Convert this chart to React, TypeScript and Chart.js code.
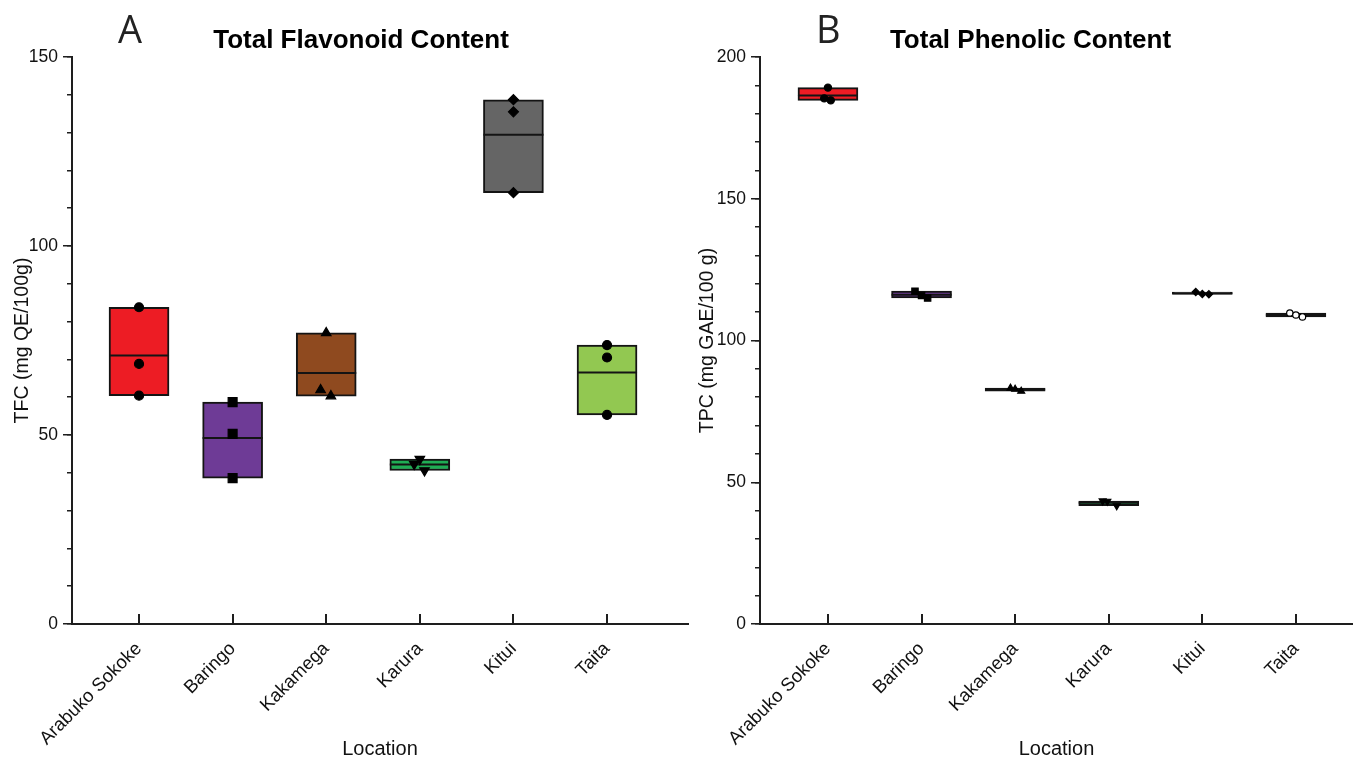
import React, { useEffect, useRef } from 'react';
import { Chart, registerables } from 'chart.js';

Chart.register(...registerables);

// ---------- data ----------
const categories = ['Arabuko Sokoke', 'Baringo', 'Kakamega', 'Karura', 'Kitui', 'Taita'];

// Total Flavonoid Content (mg QE/100g), three replicates per location
const tfcArabukoSokoke = [83.8, 68.8, 60.4];
const tfcBaringo = [58.7, 50.3, 38.6];
const tfcKakamega = [77.0, 61.9, 60.3];
const tfcKarura = [43.6, 42.3, 40.6];
const tfcKitui = [138.7, 135.5, 114.1];
const tfcTaita = [73.8, 70.5, 55.3];

// Total Phenolic Content (mg GAE/100 g), three replicates per location
const tpcArabukoSokoke = [189.2, 185.4, 184.7];
const tpcBaringo = [117.4, 115.9, 115.0];
const tpcKakamega = [83.2, 82.8, 82.1];
const tpcKarura = [43.4, 43.3, 41.7];
const tpcKitui = [117.1, 116.4, 116.3];
const tpcTaita = [109.7, 109.0, 108.3];

const tfcTicks = [0, 50, 100, 150];
const tpcTicks = [0, 50, 100, 150, 200];

// ---------- styles ----------
const boxColors = ['#ED1C24', '#6E3B96', '#8F4A1F', '#1FAE54', '#656565', '#92C851'];
const markerStyles = ['circle', 'rect', 'triangle', 'triangle', 'rectRot', 'circle'];
const markerRotations = [0, 0, 0, 180, 0, 0];
const tfcJitter = [
  [0, 0, 0],
  [0, 0, 0],
  [0, -0.06, 0.05],
  [0, -0.06, 0.05],
  [0, 0, 0],
  [0, 0, 0],
];
const tpcJitter = [
  [0, -0.04, 0.03],
  [-0.07, 0, 0.065],
  [-0.05, 0, 0.065],
  [-0.065, -0.015, 0.085],
  [-0.07, 0, 0.07],
  [-0.065, 0, 0.07],
];
const FONT = '"Liberation Sans", Arial, sans-serif';
const AXIS = '#1e1e1e';

type Panel = {
  reps: number[][];
  jitter: number[][];
  yMax: number;
  yLabelTicks: number[];
  title: string;
  yTitle: string;
  xMin: number;
  xMax: number;
  markerRadii: number[];
  openLast: boolean;
  padLeft: number;
  padRight: number;
  yAxisWidth: number;
};

function buildConfig(p: Panel): any {
  const barData = p.reps.map((r, i) => ({ x: i, y: [Math.min(...r), Math.max(...r)] }));
  const meanData = p.reps.map((r, i) => ({ x: i, y: r.reduce((a, b) => a + b, 0) / r.length }));
  const pts: { x: number; y: number }[] = [];
  const styles: string[] = [];
  const rots: number[] = [];
  const radii: number[] = [];
  const fills: string[] = [];
  p.reps.forEach((r, i) => {
    r.forEach((v, j) => {
      pts.push({ x: i + p.jitter[i][j], y: v });
      styles.push(markerStyles[i]);
      rots.push(markerRotations[i]);
      radii.push(p.markerRadii[i]);
      fills.push(p.openLast && i === 5 ? '#ffffff' : '#000000');
    });
  });
  const minorTicks: number[] = [];
  for (let v = 0; v <= p.yMax; v += 10) minorTicks.push(v);

  return {
    type: 'bar',
    data: {
      datasets: [
        {
          type: 'bar',
          data: barData,
          xAxisID: 'x',
          yAxisID: 'y',
          backgroundColor: boxColors,
          borderColor: '#141414',
          borderWidth: 2,
          borderSkipped: false,
          barThickness: 60,
          order: 3,
        },
        {
          type: 'scatter',
          data: meanData,
          xAxisID: 'x',
          yAxisID: 'y',
          pointStyle: 'line',
          pointRadius: 30,
          pointBorderWidth: 2,
          borderColor: '#141414',
          pointBorderColor: '#141414',
          order: 2,
        },
        {
          type: 'scatter',
          data: pts,
          xAxisID: 'x',
          yAxisID: 'y',
          pointStyle: styles,
          rotation: rots,
          pointRadius: radii,
          pointBackgroundColor: fills,
          backgroundColor: fills,
          pointBorderColor: '#000000',
          borderColor: '#000000',
          pointBorderWidth: 1.2,
          order: 1,
        },
      ],
    },
    options: {
      animation: false,
      responsive: false,
      maintainAspectRatio: false,
      events: [],
      layout: { padding: { left: p.padLeft, right: p.padRight, top: 0, bottom: 0 } },
      plugins: {
        legend: { display: false },
        tooltip: { enabled: false },
        title: {
          display: true,
          text: p.title,
          color: '#000',
          font: { family: FONT, size: 26, weight: 'bold', lineHeight: 1.2 },
          padding: { top: 25, bottom: 0.8 },
        },
      },
      scales: {
        x: {
          type: 'linear',
          axis: 'x',
          position: 'bottom',
          min: p.xMin,
          max: p.xMax,
          offset: false,
          afterBuildTicks: (ax: any) => {
            ax.ticks = categories.map((_, i) => ({ value: i }));
          },
          afterFit: (s: any) => {
            s.height = 135;
          },
          ticks: {
            autoSkip: false,
            minRotation: 45,
            maxRotation: 45,
            padding: 24,
            color: '#111',
            font: { family: FONT, size: 18.5 },
            callback: (v: any) => categories[Math.round(Number(v))] ?? '',
          },
          grid: {
            offset: false,
            drawOnChartArea: false,
            drawTicks: true,
            tickLength: -10,
            color: AXIS,
            lineWidth: 2,
          },
          border: { display: true, color: AXIS, width: 2 },
          title: {
            display: true,
            text: 'Location',
            color: '#111',
            font: { family: FONT, size: 20 },
            padding: { top: 0, bottom: -2 },
          },
        },
        y: {
          type: 'linear',
          axis: 'y',
          position: 'left',
          weight: 0,
          min: 0,
          max: p.yMax,
          afterBuildTicks: (ax: any) => {
            ax.ticks = minorTicks.map((v) => ({ value: v }));
          },
          afterFit: (s: any) => {
            s.width = 0;
          },
          ticks: { display: false },
          grid: { drawOnChartArea: false, drawTicks: true, tickLength: 5, color: AXIS, lineWidth: 1.5 },
          border: { display: true, color: AXIS, width: 2 },
        },
        yMajor: {
          type: 'linear',
          axis: 'y',
          position: 'left',
          weight: 1,
          min: 0,
          max: p.yMax,
          afterBuildTicks: (ax: any) => {
            ax.ticks = p.yLabelTicks.map((v) => ({ value: v }));
          },
          afterFit: (s: any) => {
            s.width = p.yAxisWidth;
          },
          ticks: {
            padding: 5,
            color: '#111',
            font: { family: FONT, size: 17.5 },
            callback: (v: any) => String(v),
          },
          grid: { drawOnChartArea: false, drawTicks: true, tickLength: 9, color: AXIS, lineWidth: 1.5 },
          border: { display: false },
          title: {
            display: true,
            text: p.yTitle,
            color: '#111',
            font: { family: FONT, size: 19.5 },
            padding: { top: 3, bottom: 0 },
          },
        },
      },
    },
  };
}

const tfcPanel: Panel = {
  reps: [tfcArabukoSokoke, tfcBaringo, tfcKakamega, tfcKarura, tfcKitui, tfcTaita],
  jitter: tfcJitter,
  yMax: 150,
  yLabelTicks: tfcTicks,
  title: 'Total Flavonoid Content',
  yTitle: 'TFC (mg QE/100g)',
  xMin: -0.716,
  xMax: 5.865,
  markerRadii: [4.5, 6.3, 5.5, 5.5, 5, 4.5],
  openLast: false,
  padLeft: 8,
  padRight: 6,
  yAxisWidth: 64,
};

const tpcPanel: Panel = {
  reps: [tpcArabukoSokoke, tpcBaringo, tpcKakamega, tpcKarura, tpcKitui, tpcTaita],
  jitter: tpcJitter,
  yMax: 200,
  yLabelTicks: tpcTicks,
  title: 'Total Phenolic Content',
  yTitle: 'TPC (mg GAE/100 g)',
  xMin: -0.726,
  xMax: 5.61,
  markerRadii: [3.6, 4.5, 4, 4, 3.6, 3.2],
  openLast: true,
  padLeft: 3,
  padRight: 17,
  yAxisWidth: 67,
};

function ChartPanel({ panel, width, height }: { panel: Panel; width: number; height: number }) {
  const ref = useRef<HTMLCanvasElement | null>(null);
  useEffect(() => {
    if (!ref.current) return;
    const chart = new Chart(ref.current, buildConfig(panel));
    return () => chart.destroy();
  }, [panel]);
  return <canvas ref={ref} width={width} height={height} style={{ display: 'block', width, height }} />;
}

export default function App() {
  const letterStyle: React.CSSProperties = {
    position: 'absolute',
    fontFamily: '"Open Sans", "DejaVu Sans", sans-serif',
    fontWeight: 400,
    fontSize: 38,
    lineHeight: 1,
    color: '#222',
  };
  return (
    <div style={{ position: 'absolute', left: 0, top: 0, width: 1353, height: 759, background: '#fff', overflow: 'hidden' }}>
      <div style={{ position: 'absolute', left: 0, top: 0 }}>
        <ChartPanel panel={tfcPanel} width={720} height={759} />
      </div>
      <div style={{ position: 'absolute', left: 690, top: 0 }}>
        <ChartPanel panel={tpcPanel} width={695} height={759} />
      </div>
      <div style={{ ...letterStyle, left: 118, top: 9 }}>A</div>
      <div style={{ ...letterStyle, left: 816, top: 9 }}>B</div>
    </div>
  );
}
